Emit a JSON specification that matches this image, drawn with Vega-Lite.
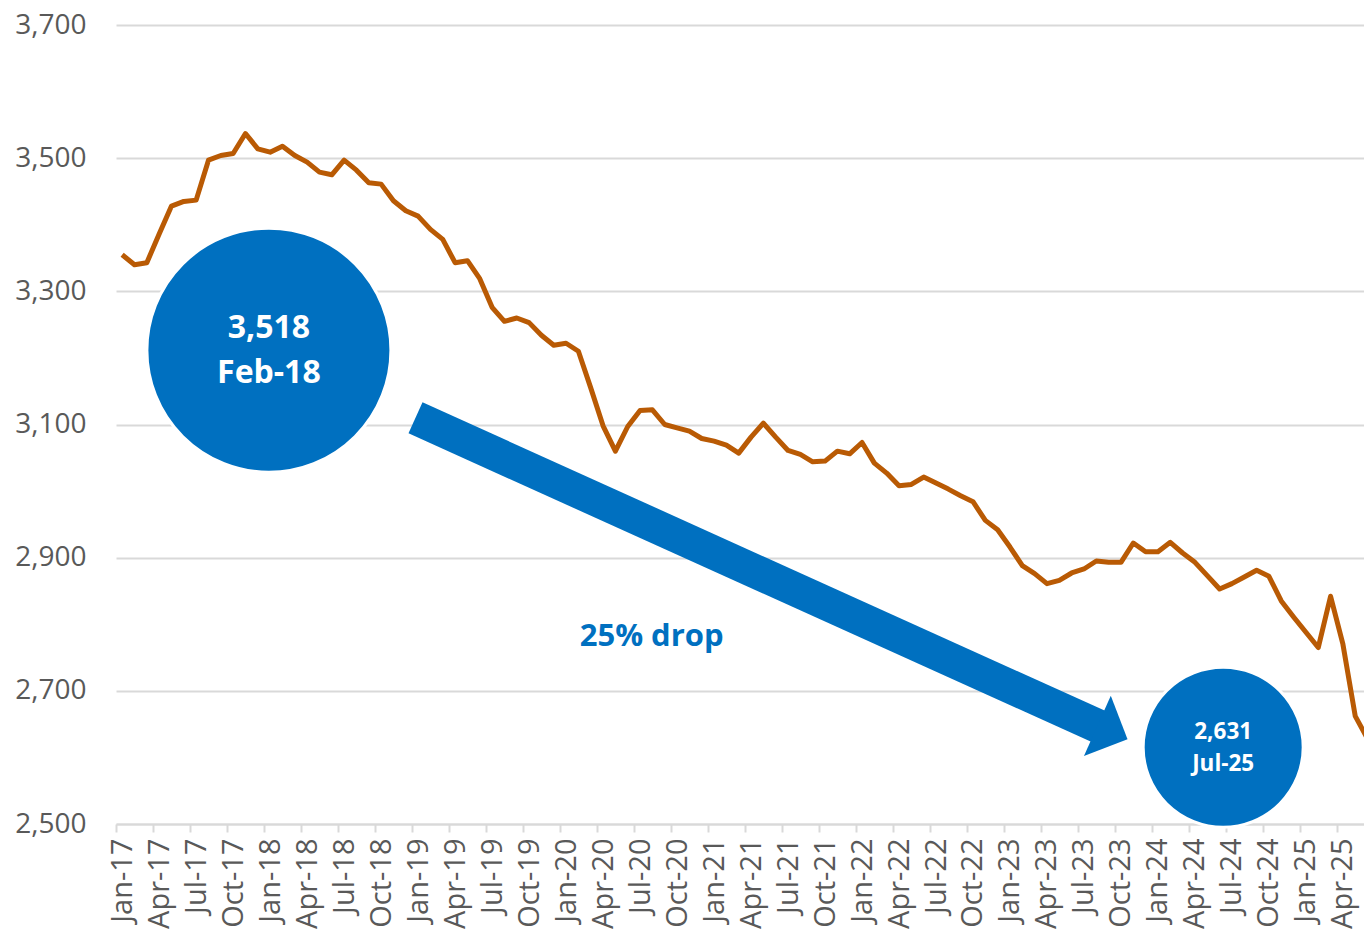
{
  "$schema": "https://vega.github.io/schema/vega-lite/v6.json",
  "width": 1248,
  "height": 799,
  "autosize": {"type": "none"},
  "padding": {"left": 116, "top": 25, "right": 0, "bottom": 109},
  "background": "white",
  "config": {"view": {"stroke": null}, "font": "Open Sans"},
  "datasets": {
    "series": [
      {"m": "Jan-17", "i": 0, "v": 3355}, {"m": "Feb-17", "i": 1, "v": 3340}, {"m": "Mar-17", "i": 2, "v": 3343},
      {"m": "Apr-17", "i": 3, "v": 3386}, {"m": "May-17", "i": 4, "v": 3428}, {"m": "Jun-17", "i": 5, "v": 3435},
      {"m": "Jul-17", "i": 6, "v": 3437}, {"m": "Aug-17", "i": 7, "v": 3497}, {"m": "Sep-17", "i": 8, "v": 3504},
      {"m": "Oct-17", "i": 9, "v": 3507}, {"m": "Nov-17", "i": 10, "v": 3537}, {"m": "Dec-17", "i": 11, "v": 3514},
      {"m": "Jan-18", "i": 12, "v": 3509}, {"m": "Feb-18", "i": 13, "v": 3518}, {"m": "Mar-18", "i": 14, "v": 3504},
      {"m": "Apr-18", "i": 15, "v": 3494}, {"m": "May-18", "i": 16, "v": 3479}, {"m": "Jun-18", "i": 17, "v": 3475},
      {"m": "Jul-18", "i": 18, "v": 3497}, {"m": "Aug-18", "i": 19, "v": 3482}, {"m": "Sep-18", "i": 20, "v": 3463},
      {"m": "Oct-18", "i": 21, "v": 3461}, {"m": "Nov-18", "i": 22, "v": 3436}, {"m": "Dec-18", "i": 23, "v": 3421},
      {"m": "Jan-19", "i": 24, "v": 3413}, {"m": "Feb-19", "i": 25, "v": 3393}, {"m": "Mar-19", "i": 26, "v": 3378},
      {"m": "Apr-19", "i": 27, "v": 3343}, {"m": "May-19", "i": 28, "v": 3346}, {"m": "Jun-19", "i": 29, "v": 3319},
      {"m": "Jul-19", "i": 30, "v": 3276}, {"m": "Aug-19", "i": 31, "v": 3255}, {"m": "Sep-19", "i": 32, "v": 3260},
      {"m": "Oct-19", "i": 33, "v": 3253}, {"m": "Nov-19", "i": 34, "v": 3234}, {"m": "Dec-19", "i": 35, "v": 3219},
      {"m": "Jan-20", "i": 36, "v": 3222}, {"m": "Feb-20", "i": 37, "v": 3210}, {"m": "Mar-20", "i": 38, "v": 3155},
      {"m": "Apr-20", "i": 39, "v": 3098}, {"m": "May-20", "i": 40, "v": 3060}, {"m": "Jun-20", "i": 41, "v": 3097},
      {"m": "Jul-20", "i": 42, "v": 3121}, {"m": "Aug-20", "i": 43, "v": 3122}, {"m": "Sep-20", "i": 44, "v": 3100},
      {"m": "Oct-20", "i": 45, "v": 3095}, {"m": "Nov-20", "i": 46, "v": 3090}, {"m": "Dec-20", "i": 47, "v": 3079},
      {"m": "Jan-21", "i": 48, "v": 3075}, {"m": "Feb-21", "i": 49, "v": 3069}, {"m": "Mar-21", "i": 50, "v": 3057},
      {"m": "Apr-21", "i": 51, "v": 3081}, {"m": "May-21", "i": 52, "v": 3102}, {"m": "Jun-21", "i": 53, "v": 3081},
      {"m": "Jul-21", "i": 54, "v": 3061}, {"m": "Aug-21", "i": 55, "v": 3055}, {"m": "Sep-21", "i": 56, "v": 3044},
      {"m": "Oct-21", "i": 57, "v": 3045}, {"m": "Nov-21", "i": 58, "v": 3060}, {"m": "Dec-21", "i": 59, "v": 3056},
      {"m": "Jan-22", "i": 60, "v": 3073}, {"m": "Feb-22", "i": 61, "v": 3042}, {"m": "Mar-22", "i": 62, "v": 3027},
      {"m": "Apr-22", "i": 63, "v": 3008}, {"m": "May-22", "i": 64, "v": 3010}, {"m": "Jun-22", "i": 65, "v": 3021},
      {"m": "Jul-22", "i": 66, "v": 3012}, {"m": "Aug-22", "i": 67, "v": 3003}, {"m": "Sep-22", "i": 68, "v": 2993},
      {"m": "Oct-22", "i": 69, "v": 2984}, {"m": "Nov-22", "i": 70, "v": 2956}, {"m": "Dec-22", "i": 71, "v": 2942},
      {"m": "Jan-23", "i": 72, "v": 2916}, {"m": "Feb-23", "i": 73, "v": 2888}, {"m": "Mar-23", "i": 74, "v": 2876},
      {"m": "Apr-23", "i": 75, "v": 2861}, {"m": "May-23", "i": 76, "v": 2866}, {"m": "Jun-23", "i": 77, "v": 2877},
      {"m": "Jul-23", "i": 78, "v": 2883}, {"m": "Aug-23", "i": 79, "v": 2895}, {"m": "Sep-23", "i": 80, "v": 2893},
      {"m": "Oct-23", "i": 81, "v": 2893}, {"m": "Nov-23", "i": 82, "v": 2922}, {"m": "Dec-23", "i": 83, "v": 2909},
      {"m": "Jan-24", "i": 84, "v": 2909}, {"m": "Feb-24", "i": 85, "v": 2923}, {"m": "Mar-24", "i": 86, "v": 2907},
      {"m": "Apr-24", "i": 87, "v": 2893}, {"m": "May-24", "i": 88, "v": 2873}, {"m": "Jun-24", "i": 89, "v": 2853},
      {"m": "Jul-24", "i": 90, "v": 2861}, {"m": "Aug-24", "i": 91, "v": 2871}, {"m": "Sep-24", "i": 92, "v": 2881},
      {"m": "Oct-24", "i": 93, "v": 2872}, {"m": "Nov-24", "i": 94, "v": 2835}, {"m": "Dec-24", "i": 95, "v": 2811},
      {"m": "Jan-25", "i": 96, "v": 2788}, {"m": "Feb-25", "i": 97, "v": 2765}, {"m": "Mar-25", "i": 98, "v": 2842},
      {"m": "Apr-25", "i": 99, "v": 2770}, {"m": "May-25", "i": 100, "v": 2662}, {"m": "Jun-25", "i": 101, "v": 2628},
      {"m": "Jul-25", "i": 102, "v": 2631}
    ]
  },
  "encoding": {
    "x": {
      "field": "i", "type": "quantitative",
      "scale": {"domain": [-0.5, 100.71], "nice": false, "zero": false},
      "axis": {
        "title": null,
        "values": [-0.5, 2.5, 5.5, 8.5, 11.5, 14.5, 17.5, 20.5, 23.5, 26.5, 29.5, 32.5, 35.5, 38.5, 41.5, 44.5, 47.5, 50.5, 53.5, 56.5, 59.5, 62.5, 65.5, 68.5, 71.5, 74.5, 77.5, 80.5, 83.5, 86.5, 89.5, 92.5, 95.5, 98.5],
        "labelExpr": "['Jan','Feb','Mar','Apr','May','Jun','Jul','Aug','Sep','Oct','Nov','Dec'][(datum.value + 0.5) % 12] + '-' + (17 + floor((datum.value + 0.5) / 12))",
        "labelOffset": 6.17,
        "labelAngle": 270,
        "labelAlign": "right",
        "labelBaseline": "middle",
        "labelFontSize": 29,
        "labelFont": "Open Sans",
        "labelColor": "#595959",
        "labelPadding": 6,
        "labelOverlap": false,
        "labelFlush": false,
        "labelBound": false,
        "grid": false,
        "domain": true,
        "domainColor": "#D9D9D9",
        "domainWidth": 2,
        "ticks": true,
        "tickColor": "#D9D9D9",
        "tickWidth": 2,
        "tickSize": 8
      }
    },
    "y": {
      "field": "v", "type": "quantitative",
      "scale": {"domain": [2500, 3700], "nice": false, "zero": false},
      "axis": {
        "title": null,
        "values": [2500, 2700, 2900, 3100, 3300, 3500, 3700],
        "format": ",d",
        "grid": true,
        "gridColor": "#D9D9D9",
        "gridWidth": 2,
        "domain": false,
        "ticks": false,
        "labelFontSize": 28,
        "labelFont": "Open Sans",
        "labelColor": "#595959",
        "labelPadding": 30
      }
    }
  },
  "layer": [
    {
      "data": {"name": "series"},
      "mark": {"type": "line", "color": "#B95A04", "strokeWidth": 5, "strokeJoin": "round", "clip": true}
    },
    {
      "data": {"values": [{"i": 23.79, "v": 3110, "i2": 79.33, "v2": 2645.3}]},
      "mark": {"type": "rule", "color": "#0070C0", "strokeWidth": 34, "strokeCap": "butt"},
      "encoding": {
        "x2": {"field": "i2"},
        "y2": {"field": "v2"}
      }
    },
    {
      "data": {"values": [{"i": 80.31, "v": 2637.4}]},
      "mark": {"type": "point", "shape": "M0.5,0L-0.5,-1L-0.5,1Z", "size": 4356, "angle": 24, "filled": true, "color": "#0070C0", "opacity": 1, "strokeWidth": 0}
    },
    {
      "data": {"values": [{"i": 11.9, "v": 3211.6, "d": 244}, {"i": 89.29, "v": 2615.4, "d": 160}]},
      "mark": {"type": "point", "shape": "circle", "filled": true, "color": "#0070C0", "opacity": 1, "stroke": "white", "strokeWidth": 3},
      "encoding": {
        "size": {"field": "d", "type": "quantitative", "scale": {"type": "pow", "exponent": 2, "domain": [0, 244], "range": [0, 59536]}, "legend": null}
      }
    },
    {
      "data": {"values": [{"i": 11.9, "v": 3244.6, "t": "3,518"}, {"i": 11.9, "v": 3177.2, "t": "Feb-18"}]},
      "mark": {"type": "text", "font": "Open Sans", "fontWeight": "bold", "fontSize": 32, "color": "white", "align": "center", "baseline": "middle"},
      "encoding": {"text": {"field": "t"}}
    },
    {
      "data": {"values": [{"i": 89.29, "v": 2638.4, "t": "2,631"}, {"i": 89.29, "v": 2589.4, "t": "Jul-25"}]},
      "mark": {"type": "text", "font": "Open Sans", "fontWeight": "bold", "fontSize": 22.5, "color": "white", "align": "center", "baseline": "middle"},
      "encoding": {"text": {"field": "t"}}
    },
    {
      "data": {"values": [{"i": 42.94, "v": 2781.6, "t": "25% drop"}]},
      "mark": {"type": "text", "font": "Open Sans", "fontWeight": "bold", "fontSize": 31, "color": "#0070C0", "align": "center", "baseline": "middle"},
      "encoding": {"text": {"field": "t"}}
    }
  ]
}
